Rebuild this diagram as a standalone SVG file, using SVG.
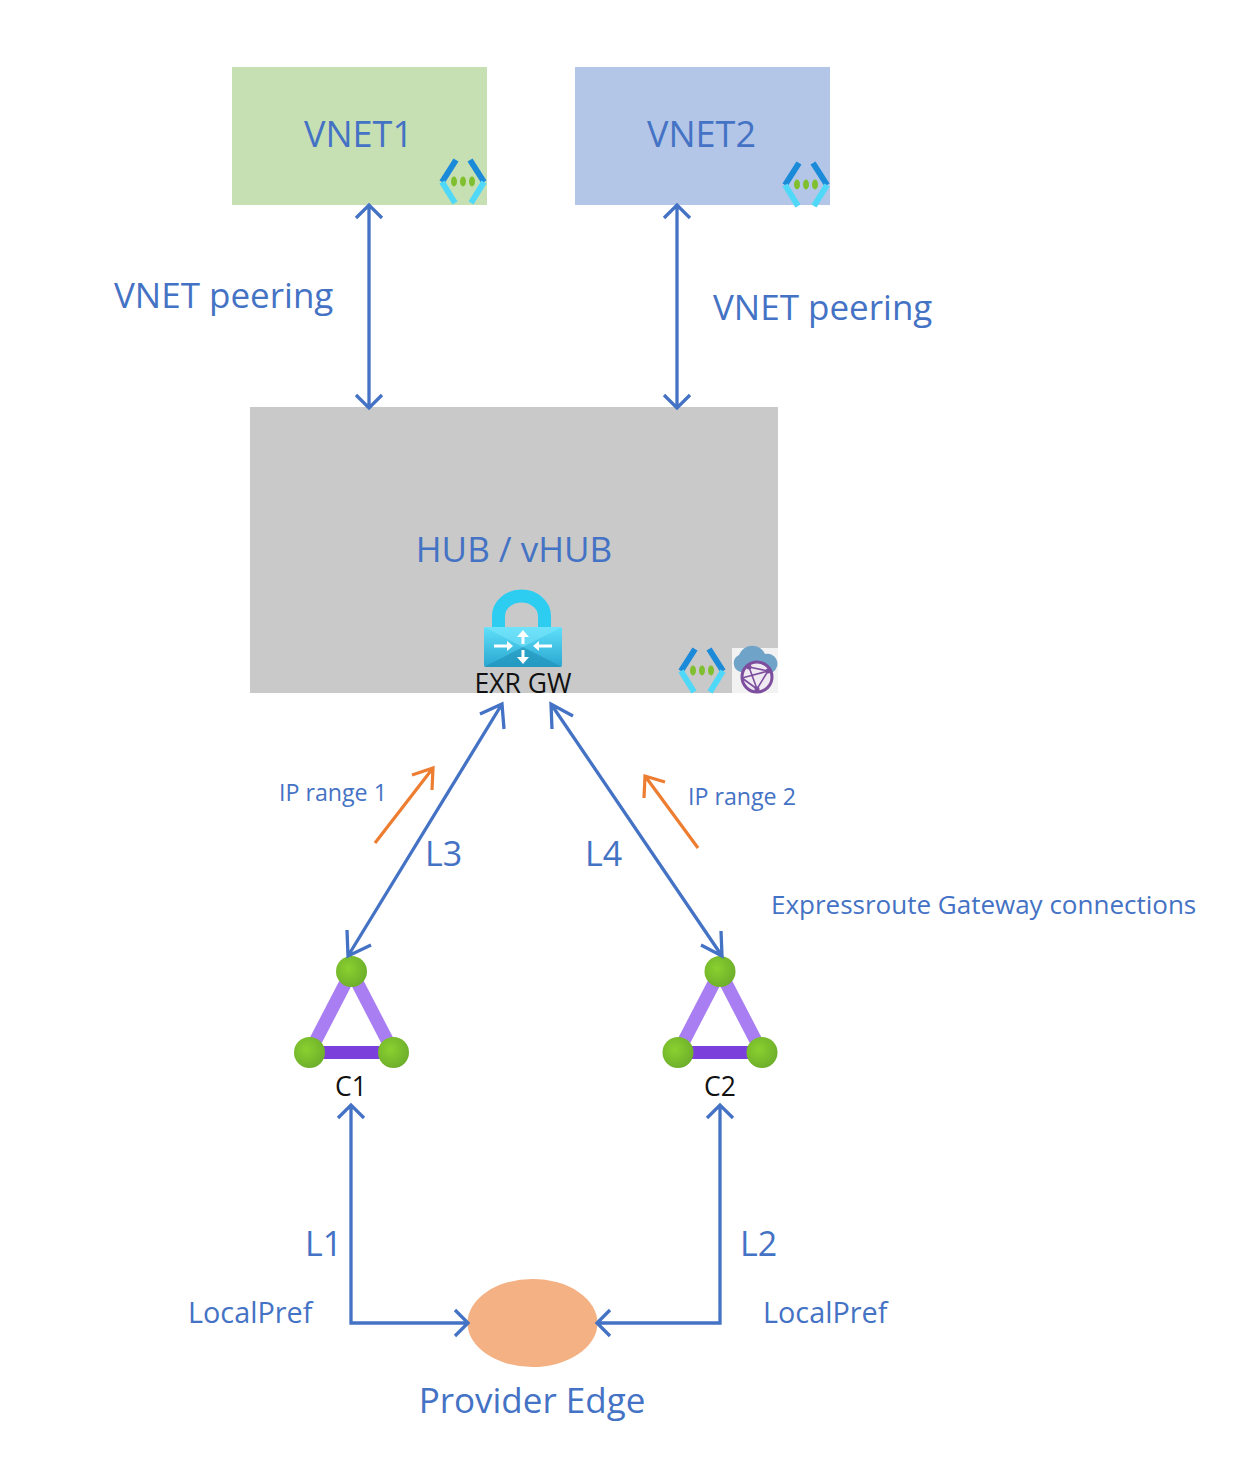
<svg xmlns="http://www.w3.org/2000/svg" width="1246" height="1471" viewBox="0 0 1246 1471">
<style>
text{font-family:"Open Sans","Noto Sans","Liberation Sans",sans-serif;fill:#4472c4}
.l{font-size:35px}.v{font-size:36px}.t{font-size:34px}.m{font-size:28.800px}.s{font-size:23.200px}.k{font-size:26.500px;fill:#111}
.c{fill:none;stroke:#4472c4;stroke-width:3.300}
.o{fill:none;stroke:#ed7d31;stroke-width:3.200}
.dk{fill:none;stroke:#1b8ad8;stroke-width:6}
.lt{fill:none;stroke:#50d8f8;stroke-width:6}
.d{fill:#80c030}
.e1{stroke:#a97ef2;stroke-width:13}.e2{stroke:#7b3fdc;stroke-width:13}
.n{fill:url(#g)}
</style>
<defs>
<radialGradient id="g" cx="0.4" cy="0.4" r="0.75"><stop offset="0" stop-color="#8ad12f"/><stop offset="1" stop-color="#68a82a"/></radialGradient>
<linearGradient id="lk" x1="0" y1="0" x2="0" y2="1"><stop offset="0" stop-color="#5fe0fa"/><stop offset="1" stop-color="#2aa6cf"/></linearGradient>
<g id="vn">
<path class="dk" d="M16 1L2 23"/><path class="dk" d="M30 1L44 23"/>
<path class="lt" d="M2 23L15 44"/><path class="lt" d="M44 23L31 44"/>
<ellipse class="d" cx="14" cy="22.500" rx="3" ry="5"/><ellipse class="d" cx="23" cy="22.500" rx="3" ry="5"/><ellipse class="d" cx="32" cy="22.500" rx="3" ry="5"/>
</g>
<g id="tri">
<line class="e1" x1="0" y1="0" x2="-42" y2="81"/><line class="e1" x1="0" y1="0" x2="42" y2="81"/>
<line class="e2" x1="-42" y1="81" x2="42" y2="81"/>
<circle class="n" cx="0" cy="0" r="15.500"/><circle class="n" cx="-42" cy="81" r="15.500"/><circle class="n" cx="42" cy="81" r="15.500"/>
</g>
</defs>
<rect width="1246" height="1471" fill="#fff"/>
<g id="vnet1"><rect x="232" y="67" width="255" height="138" fill="#c6e0b4"/><text class="v" x="358.500" y="147" text-anchor="middle">VNET1</text><use href="#vn" x="440" y="159"/></g>
<g id="vnet2"><rect x="575" y="67" width="255" height="138" fill="#b4c6e7"/><text class="v" x="701.500" y="147" text-anchor="middle">VNET2</text><use href="#vn" x="783" y="162"/></g>
<g id="hub"><rect x="250" y="407" width="528" height="286" fill="#c9c9c9"/><text class="l" x="514" y="562" text-anchor="middle">HUB / vHUB</text>
<use href="#vn" x="679" y="648"/>
<rect x="732" y="648" width="46" height="45" fill="#f2f2f2"/>
<path d="M741 672a9 9 0 0 1 -2 -17a14 14 0 0 1 26 -1a10 10 0 0 1 8 18z" fill="#6fa3c8"/>
<circle cx="757" cy="677" r="15" fill="#efe9f2" stroke="#7d4e9e" stroke-width="3"/>
<path d="M749 667L768 671L757 689L749 667M742 678L768 671M757 689L742 678" fill="none" stroke="#7d4e9e" stroke-width="1.600"/>
<circle cx="749" cy="667" r="2.500" fill="#7d4e9e"/><circle cx="768" cy="671" r="2.500" fill="#7d4e9e"/><circle cx="757" cy="689" r="2.500" fill="#7d4e9e"/>
</g>
<g id="exr-gw">
<path d="M498.500 630V616a23 20 0 0 1 46 0V630" fill="none" stroke="#2dcdf2" stroke-width="13"/>
<rect x="484" y="627" width="78" height="40" rx="2" fill="url(#lk)"/>
<path d="M484 627L523 647L562 627z" fill="#7be6fc" opacity=".55"/>
<path d="M484 667L523 647L562 667z" fill="#1f8fb8" opacity=".6"/>
<path d="M523 644V636M523 650V658M494 646H508M552 646H538" fill="none" stroke="#fff" stroke-width="3"/>
<path d="M517 637L523 630L529 637zM517 657L523 664L529 657zM507 641L513 646L507 651zM539 641L533 646L539 651z" fill="#fff"/>
<text class="k" x="523" y="693" text-anchor="middle">EXR GW</text>
</g>
<g id="c1"><use href="#tri" x="351.500" y="971.500"/><text class="k" x="351" y="1096" text-anchor="middle">C1</text></g>
<g id="c2"><use href="#tri" x="720" y="971.500"/><text class="k" x="720" y="1096" text-anchor="middle">C2</text></g>
<g id="pe"><ellipse cx="532.500" cy="1323" rx="65" ry="44" fill="#f4b183"/><text class="l" x="532" y="1413" text-anchor="middle">Provider Edge</text></g>
<g id="connectors">
<path class="c" d="M369 205V408M356 218L369 205L382 218M356 395L369 408L382 395"/>
<path class="c" d="M677 205V408M664 218L677 205L690 218M664 395L677 408L690 395"/>
<path class="c" d="M502 704L348 956M480 714L502 704L504 729M347 930L348 956L371 945"/>
<path class="c" d="M551 704L722 956M552 729L551 704L573 716M701 945L722 956L721 931"/>
<path class="c" d="M351 1105V1323H468M338 1118L351 1105L364 1118M455 1310L468 1323L455 1336"/>
<path class="c" d="M720 1105V1323H597M707 1118L720 1105L733 1118M610 1310L597 1323L610 1336"/>
<path class="o" d="M375 843L433 768M412 775L433 768L432 790"/>
<path class="o" d="M698 848L645 776M644 798L645 776L665 782"/>
</g>
<g id="labels">
<text class="l" x="114" y="308">VNET peering</text>
<text class="l" x="713" y="320">VNET peering</text>
<text class="s" x="279" y="801">IP range 1</text>
<text class="s" x="688" y="805">IP range 2</text>
<text class="t" x="425" y="866">L3</text>
<text class="t" x="585" y="866">L4</text>
<text x="771" y="914" style="font-size:26px">Expressroute Gateway connections</text>
<text class="t" x="305" y="1256">L1</text>
<text class="t" x="740" y="1256">L2</text>
<text class="m" x="188" y="1323">LocalPref</text>
<text class="m" x="763" y="1323">LocalPref</text>
</g>
</svg>
